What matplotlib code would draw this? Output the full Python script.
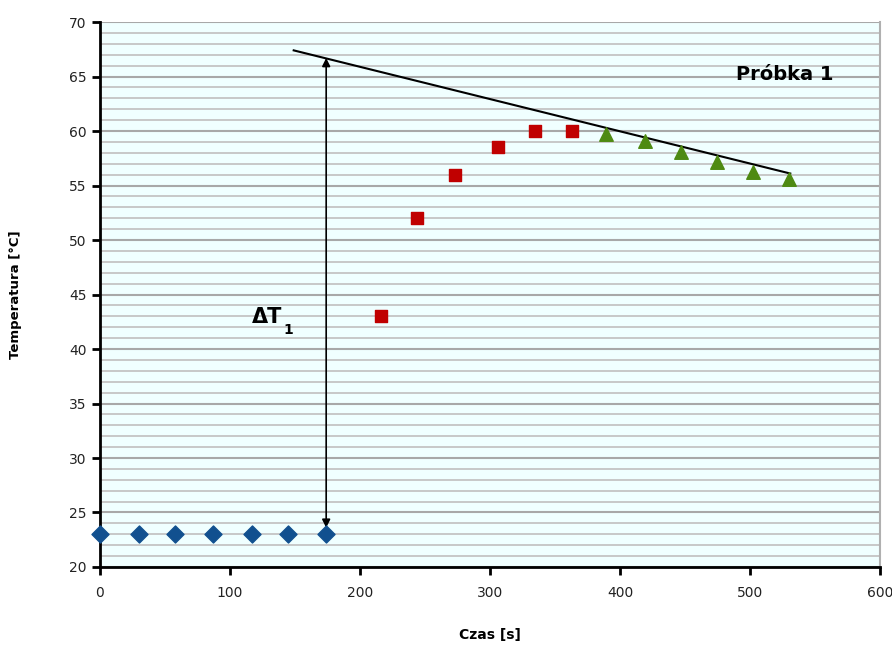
import numpy as np
import matplotlib.pyplot as plt
from matplotlib.ticker import MultipleLocator

# data
x_start = [0, 30, 58, 87, 117, 145, 174]
t_start = [23, 23, 23, 23, 23, 23, 23]
x_heat = [216, 244, 273, 306, 335, 363]
t_heat = [43, 52, 56, 58.5, 60, 60]
x_cool = [389, 419, 447, 475, 502, 530]
t_cool = [59.7, 59.1, 58.1, 57.2, 56.2, 55.6]
trend_x = [149, 531]
trend_t = [67.4, 56.1]
arrow_x = 174
arrow_t = [66.7, 23.6]

fig = plt.figure(figsize=(8.92, 6.46), dpi=100)
ax = fig.add_axes([0.1121, 0.1223, 0.8744, 0.8436])
ax.set_facecolor('#F0FFFF')

ax.set_xlim(0, 600)
ax.set_ylim(20, 70)
ax.xaxis.set_major_locator(MultipleLocator(100))
ax.yaxis.set_major_locator(MultipleLocator(5))
ax.yaxis.set_minor_locator(MultipleLocator(1))
ax.grid(axis='y', which='minor', color='#C4C4C4', lw=1.3)
ax.grid(axis='y', which='major', color='#A8A8A8', lw=1.5)
ax.set_axisbelow(True)

for s in ['left', 'bottom']:
    ax.spines[s].set_linewidth(2)
ax.spines['top'].set_visible(False)
ax.spines['right'].set_color('#B0B0B0')
ax.spines['right'].set_linewidth(1.5)
ax.tick_params(which='major', direction='out', length=6, width=2, labelsize=10, colors='black', labelcolor='#222222')
ax.tick_params(which='minor', length=0)
ax.tick_params(axis='x', pad=8)

ax.plot(trend_x, trend_t, color='black', lw=1.5, zorder=2)
ax.annotate('', xy=(arrow_x, arrow_t[0]), xytext=(arrow_x, arrow_t[1]),
            arrowprops=dict(arrowstyle='<|-|>', color='black', lw=1.2, mutation_scale=12, shrinkA=0, shrinkB=0), zorder=2)

ax.scatter(x_start, t_start, marker='D', s=75, color='#11508F', zorder=3, clip_on=False)
ax.scatter(x_heat, t_heat, marker='s', s=75, color='#C00000', zorder=3)
ax.scatter(x_cool, t_cool, marker='^', s=95, color='#4E8A12', zorder=3)

ax.text(140, 42.9, 'ΔT', fontsize=15, fontweight='bold', ha='right', va='center')
ax.text(141, 41.7, '1', fontsize=10, fontweight='bold', ha='left', va='center')
ax.text(527, 65.2, 'Próbka 1', fontsize=14, fontweight='bold', ha='center', va='center')

ax.set_xlabel('Czas [s]', fontsize=10, fontweight='bold', labelpad=20)
ax.set_ylabel('Temperatura [°C]', fontsize=9.5, fontweight='bold', labelpad=34)

fig.savefig('out.png', dpi=100)
